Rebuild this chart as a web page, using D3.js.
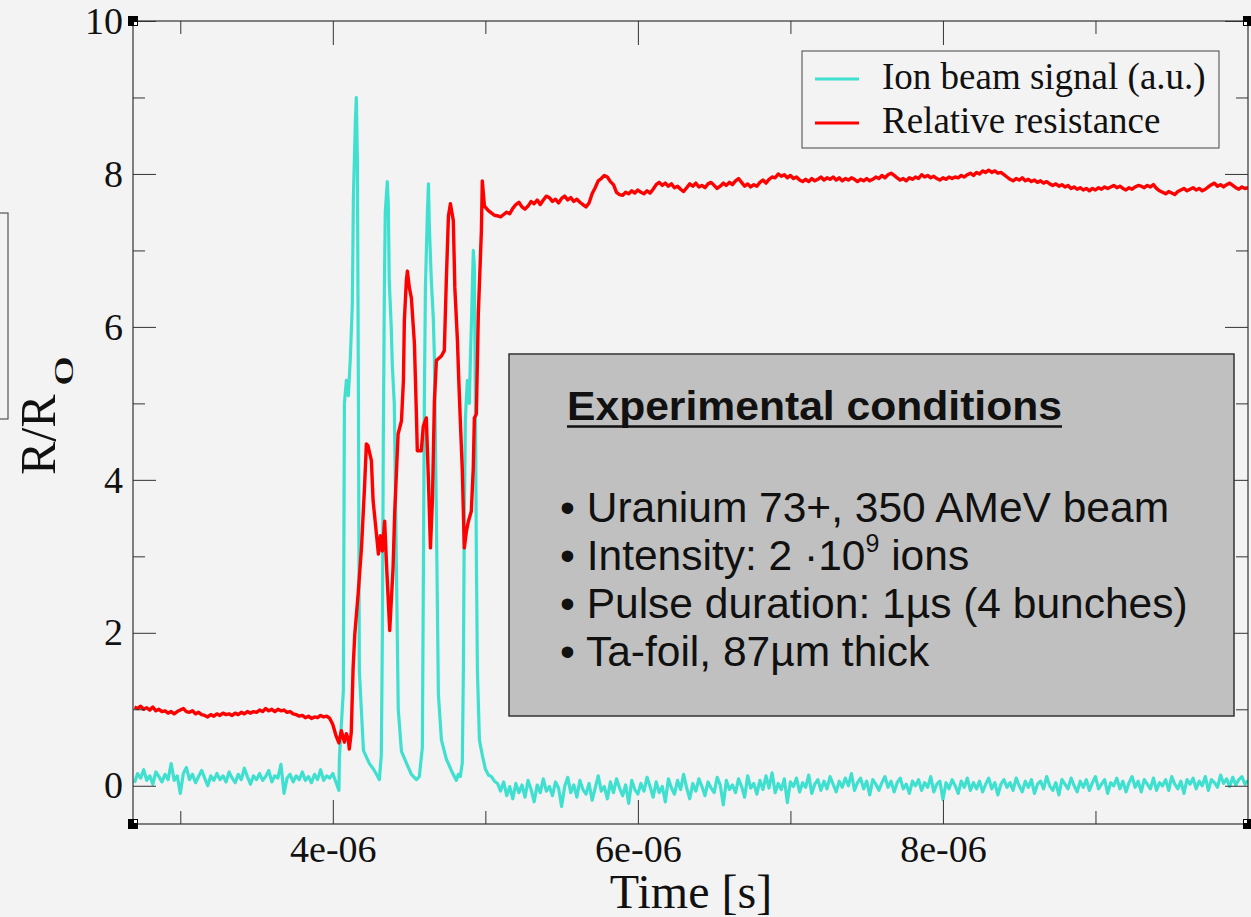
<!DOCTYPE html>
<html>
<head>
<meta charset="utf-8">
<script src="https://cdn.jsdelivr.net/npm/d3@7"></script>
<style>
  html, body { margin: 0; padding: 0; background: #f3f3f3; }
  svg { display: block; }
  .serif { font-family: "Liberation Serif", "Times New Roman", serif; fill: #111; }
  .sans { font-family: "Liberation Sans", Arial, sans-serif; fill: #111; }
</style>
</head>
<body>
<svg id="chart" width="1251" height="917"></svg>
<script>
// time in microseconds
const STEP = 0.02
const PRE_T0 = 2.70

// ion beam signal before the pulse (2.70 .. 4.04 us)
const ionPre = [
  0.04, 0.16, 0.10, 0.21, 0.07, 0.13, 0.02, 0.18, 0.12, 0.05,
  0.15, 0.08, 0.29, 0.07, 0.13, -0.10, 0.16, 0.24, 0.08, 0.15,
  0.04, 0.12, 0.20, 0.10, 0.00, 0.13, 0.07, 0.16, 0.08, 0.13,
  0.05, 0.18, 0.10, 0.04, 0.15, 0.08, 0.23, 0.12, 0.02, 0.13,
  0.08, 0.16, 0.07, 0.12, 0.20, 0.05, 0.13, 0.10, 0.28, -0.10,
  0.10, 0.15, 0.05, 0.13, 0.08, 0.18, 0.07, 0.12, 0.04, 0.15,
  0.08, 0.21, 0.07, 0.13, 0.10, 0.16, 0.05, -0.06
]

// relative resistance before the pulse (2.70 .. 4.04 us)
const resPre = [
  1.03, 1.01, 1.04, 1.00, 1.02, 0.99, 1.03, 0.98, 1.00, 0.97,
  0.98, 0.95, 0.97, 0.94, 0.97, 0.99, 1.01, 0.97, 0.96, 0.98,
  0.94, 0.96, 0.93, 0.92, 0.90, 0.93, 0.91, 0.94, 0.92, 0.95,
  0.93, 0.94, 0.92, 0.95, 0.93, 0.96, 0.94, 0.97, 0.95, 0.97,
  0.96, 0.99, 0.97, 1.01, 0.98, 1.00, 0.97, 1.00, 0.98, 0.99,
  0.96, 0.97, 0.94, 0.93, 0.91, 0.92, 0.89, 0.91, 0.88, 0.90,
  0.89, 0.92, 0.90, 0.91, 0.88, 0.80, 0.66, 0.56
]

// the four bunches, [time us, value]
const ionBurst = [
  [4.043, 0.36], [4.056, 0.80], [4.069, 1.24], [4.076, 5.0], [4.089, 5.3], [4.102, 5.1],
  [4.115, 5.6], [4.128, 6.3], [4.135, 7.7], [4.148, 8.7], [4.154, 9.0], [4.161, 8.2],
  [4.168, 5.0], [4.174, 1.5], [4.201, 0.46], [4.240, 0.29], [4.266, 0.22], [4.286, 0.15],
  [4.305, 0.08], [4.318, 0.40], [4.325, 2.0], [4.331, 4.5], [4.338, 6.5], [4.344, 7.5],
  [4.357, 7.9], [4.364, 7.6], [4.370, 6.6], [4.383, 6.0], [4.390, 5.5], [4.403, 5.0],
  [4.416, 3.0], [4.429, 1.0], [4.450, 0.45], [4.482, 0.30], [4.515, 0.15], [4.548, 0.08],
  [4.567, 0.12], [4.587, 0.50], [4.593, 2.5], [4.600, 5.0], [4.607, 6.5], [4.620, 7.5],
  [4.627, 7.87], [4.633, 7.3], [4.646, 6.6], [4.659, 6.1], [4.666, 5.6], [4.679, 3.5],
  [4.692, 1.2], [4.712, 0.60], [4.744, 0.35], [4.777, 0.20], [4.810, 0.07], [4.823, 0.15],
  [4.836, 0.12], [4.849, 0.30], [4.856, 1.5], [4.862, 3.5], [4.869, 4.8], [4.882, 5.3],
  [4.895, 5.0], [4.902, 5.6], [4.908, 6.0], [4.921, 7.0], [4.928, 6.8], [4.935, 5.0],
  [4.941, 3.0], [4.948, 1.5], [4.961, 0.60], [4.980, 0.40], [5.000, 0.22], [5.020, 0.14]
]

const resBurst = [
  [4.056, 0.72], [4.076, 0.57], [4.089, 0.68], [4.102, 0.60], [4.108, 0.48], [4.121, 0.70],
  [4.133, 1.54], [4.144, 1.98], [4.166, 2.51], [4.188, 3.11], [4.209, 3.95], [4.220, 4.47],
  [4.230, 4.45], [4.253, 4.25], [4.264, 3.73], [4.286, 3.29], [4.299, 3.03], [4.312, 3.27],
  [4.325, 3.07], [4.340, 3.46], [4.351, 2.94], [4.373, 2.03], [4.395, 2.85], [4.406, 3.59],
  [4.428, 4.60], [4.450, 4.77], [4.463, 5.30], [4.469, 6.08], [4.482, 6.60], [4.489, 6.73],
  [4.502, 6.51], [4.515, 6.38], [4.535, 5.78], [4.548, 4.86], [4.554, 4.38], [4.580, 4.38],
  [4.593, 4.70], [4.613, 4.81], [4.627, 3.99], [4.640, 3.11], [4.653, 3.73], [4.666, 5.03],
  [4.679, 5.56], [4.712, 5.62], [4.731, 5.69], [4.744, 6.60], [4.758, 7.45], [4.771, 7.61],
  [4.790, 7.39], [4.800, 6.51], [4.817, 5.82], [4.826, 5.29], [4.836, 4.77], [4.849, 4.12],
  [4.862, 3.11], [4.876, 3.33], [4.889, 3.46], [4.908, 3.59], [4.921, 4.16], [4.928, 4.81],
  [4.941, 4.86], [4.954, 6.17], [4.974, 7.25], [4.980, 7.91], [4.994, 7.58], [5.020, 7.52],
  [5.039, 7.49], [5.059, 7.46], [5.085, 7.45]
]

// after the pulse
const ION_POST_T0 = 5.04
const ionPost = [
  0.12, 0.06, 0.03, -0.07, 0.05, -0.13, -0.01, -0.17, 0.03, -0.09,
  0.01, -0.15, 0.07, -0.05, -0.21, 0.01, -0.09, 0.09, -0.07, -0.01,
  -0.13, 0.05, -0.03, -0.27, -0.01, 0.11, -0.09, 0.01, -0.15, 0.07,
  -0.05, -0.11, 0.03, -0.19, -0.03, 0.13, -0.07, -0.01, -0.17, 0.05,
  -0.09, 0.09, -0.03, -0.13, 0.01, -0.23, 0.07, -0.05, -0.11, 0.03,
  -0.07, 0.11, -0.01, -0.15, 0.05, -0.09, -0.01, -0.21, 0.09, -0.03,
  -0.11, 0.07, -0.05, 0.15, -0.03, -0.17, 0.03, -0.07, 0.09, -0.01,
  -0.13, 0.05, -0.03, -0.09, 0.11, 0.01, -0.25, 0.07, -0.05, 0.01,
  -0.09, 0.09, -0.01, -0.15, 0.13, -0.03, 0.03, -0.11, 0.07, -0.05,
  0.13, -0.03, 0.17, -0.09, 0.03, -0.05, 0.09, -0.22, 0.05, -0.01,
  0.10, -0.08, 0.04, -0.02, 0.14, -0.10, 0.02, 0.08, -0.06, 0.06,
  -0.04, 0.12, 0.02, -0.08, 0.06, -0.02, 0.10, 0.00, 0.16, -0.06,
  0.04, 0.10, -0.04, 0.06, -0.12, 0.08, 0.02, -0.06, 0.04, 0.12,
  -0.02, 0.06, -0.08, 0.04, 0.10, -0.04, 0.02, -0.10, 0.06, 0.00,
  0.08, -0.06, 0.04, -0.02, 0.12, -0.08, 0.02, 0.06, -0.18, 0.04,
  -0.04, 0.08, 0.00, -0.10, 0.06, -0.02, 0.10, -0.06, 0.04, -0.04,
  0.06, -0.08, 0.02, 0.10, -0.04, 0.04, -0.12, 0.02, 0.08, -0.02,
  0.04, -0.06, 0.10, 0.00, -0.08, 0.06, -0.02, 0.08, -0.10, 0.02,
  0.06, -0.04, 0.12, 0.00, -0.06, 0.04, -0.12, 0.08, 0.02, -0.04,
  0.10, 0.00, -0.08, 0.06, -0.02, 0.08, -0.06, 0.04, 0.12, -0.04,
  0.02, 0.08, -0.10, 0.04, 0.00, 0.10, -0.04, 0.06, -0.08, 0.04,
  0.12, -0.02, 0.06, -0.08, 0.08, 0.02, -0.04, 0.10, -0.06, 0.04,
  0.00, 0.08, -0.06, 0.12, 0.02, -0.04, 0.06, -0.10, 0.08, 0.02,
  0.10, -0.04, 0.06, 0.00, 0.12, -0.06, 0.08, 0.04, -0.02, 0.14,
  0.03, 0.09, -0.01, 0.11, 0.01, 0.08, 0.12, 0.02, 0.07
]

const RES_POST_T0 = 5.10
const resPost = [
  7.44, 7.47, 7.50, 7.48, 7.55, 7.60, 7.63, 7.57, 7.54, 7.58,
  7.64, 7.61, 7.66, 7.60, 7.66, 7.71, 7.69, 7.64, 7.67, 7.62,
  7.68, 7.71, 7.66, 7.69, 7.64, 7.67, 7.63, 7.60, 7.57, 7.62,
  7.74, 7.82, 7.91, 7.94, 7.98, 7.96, 7.90, 7.86, 7.76, 7.73,
  7.72, 7.76, 7.74, 7.78, 7.75, 7.79, 7.76, 7.74, 7.78, 7.75,
  7.80, 7.86, 7.89, 7.85, 7.88, 7.84, 7.87, 7.82, 7.84, 7.80,
  7.77, 7.82, 7.87, 7.84, 7.88, 7.83, 7.85, 7.82, 7.87, 7.89,
  7.85, 7.81, 7.84, 7.88, 7.85, 7.89, 7.86, 7.91, 7.94, 7.89,
  7.84, 7.87, 7.83, 7.86, 7.84, 7.89, 7.92, 7.88, 7.93, 7.96,
  7.95, 8.00, 7.97, 7.99, 7.95, 7.98, 7.94, 7.96, 7.92, 7.90,
  7.93, 7.90, 7.94, 7.91, 7.93, 7.96, 7.92, 7.95, 7.93, 7.96,
  7.92, 7.95, 7.91, 7.94, 7.92, 7.95, 7.93, 7.90, 7.93, 7.91,
  7.94, 7.91, 7.93, 7.96, 7.94, 7.98, 7.95, 7.99, 8.01, 7.98,
  7.95, 7.92, 7.94, 7.91, 7.95, 7.93, 7.96, 7.94, 7.99, 7.96,
  7.98, 7.95, 7.97, 7.94, 7.92, 7.95, 7.93, 7.96, 7.94, 7.96,
  7.95, 7.98, 7.96, 7.99, 8.01, 7.98, 8.02, 8.00, 8.04, 8.02,
  8.05, 8.02, 8.04, 8.01, 8.02, 7.99, 7.96, 7.93, 7.91, 7.94,
  7.92, 7.95, 7.91, 7.93, 7.90, 7.92, 7.89, 7.91, 7.88, 7.90,
  7.87, 7.85, 7.87, 7.84, 7.86, 7.83, 7.85, 7.81, 7.83, 7.80,
  7.82, 7.79, 7.81, 7.78, 7.81, 7.79, 7.82, 7.80, 7.83, 7.81,
  7.83, 7.85, 7.82, 7.84, 7.81, 7.79, 7.82, 7.80, 7.83, 7.85,
  7.84, 7.82, 7.85, 7.83, 7.86, 7.81, 7.78, 7.76, 7.74, 7.77,
  7.75, 7.73, 7.77, 7.79, 7.81, 7.78, 7.80, 7.82, 7.79, 7.81,
  7.78, 7.80, 7.83, 7.86, 7.88, 7.84, 7.86, 7.83, 7.86, 7.88,
  7.85, 7.82, 7.80, 7.83, 7.81, 7.82
]

const xMajor = [4, 6, 8]
const xMinor = [3, 5, 7, 9]
const yMajor = [0, 2, 4, 6, 8, 10]
const yMinor = [1, 3, 5, 7, 9]

const legendItems = [
  { label: "Ion beam signal (a.u.)", color: "#40e0d0" },
  { label: "Relative resistance", color: "#ff0000" }
]

const conditions = [
  ["• Uranium 73+, 350 AMeV beam"],
  ["• Intensity: 2 ·10", "9", " ions"],
  ["• Pulse duration: 1µs (4 bunches)"],
  ["• Ta-foil, 87µm thick"]
]

// ---------------------------------------------------------------

const M = { left: 133, top: 21, right: 1248, bottom: 824 }
const svg = d3.select("#chart")

svg.append("rect").attr("width", 1251).attr("height", 917).attr("fill", "#f3f3f3")

// stray box from the slide on the left edge
svg.append("rect")
  .attr("x", -2).attr("y", 213).attr("width", 10).attr("height", 206)
  .attr("fill", "none").attr("stroke", "#555").attr("stroke-width", 1.2)

const x = d3.scaleLinear().domain([2.69, 10]).range([M.left, M.right])
const y = d3.scaleLinear().domain([-0.5, 10]).range([M.bottom, M.top])

const sampled = (t0, vals) => vals.map((v, i) => [t0 + i * STEP, v])
const ionData = sampled(PRE_T0, ionPre).concat(ionBurst, sampled(ION_POST_T0, ionPost))
const resData = sampled(PRE_T0, resPre).concat(resBurst, sampled(RES_POST_T0, resPost))

svg.append("clipPath").attr("id", "plot-clip")
  .append("rect")
  .attr("x", M.left).attr("y", M.top)
  .attr("width", M.right - M.left).attr("height", M.bottom - M.top)

const line = d3.line().x(d => x(d[0])).y(d => y(d[1]))
const traces = svg.append("g").attr("clip-path", "url(#plot-clip)")
traces.append("path").datum(ionData)
  .attr("d", line).attr("fill", "none")
  .attr("stroke", legendItems[0].color).attr("stroke-width", 3.2).attr("stroke-linejoin", "round")
traces.append("path").datum(resData)
  .attr("d", line).attr("fill", "none")
  .attr("stroke", legendItems[1].color).attr("stroke-width", 3.4).attr("stroke-linejoin", "round")

// axes: ticks point inwards on all four sides
const fmtX = d => (d / 1e6).toExponential().replace(/e-(\d)$/, "e-0$1")

function styleAxis(g) {
  g.select(".domain").remove()
  g.selectAll(".tick line").attr("stroke", "#333").attr("stroke-width", 1)
  g.selectAll(".tick text").attr("class", "serif").attr("font-size", 38).attr("fill", "#111")
}

svg.append("g").attr("transform", `translate(0,${M.bottom})`)
  .call(d3.axisBottom(x).tickValues(xMajor).tickSize(-24).tickPadding(11).tickFormat(fmtX))
  .call(styleAxis)
svg.append("g").attr("transform", `translate(0,${M.bottom})`)
  .call(d3.axisBottom(x).tickValues(xMinor).tickSize(-13).tickFormat(""))
  .call(styleAxis)
svg.append("g").attr("transform", `translate(0,${M.top})`)
  .call(d3.axisTop(x).tickValues(xMajor).tickSize(-24).tickFormat(""))
  .call(styleAxis)
svg.append("g").attr("transform", `translate(0,${M.top})`)
  .call(d3.axisTop(x).tickValues(xMinor).tickSize(-13).tickFormat(""))
  .call(styleAxis)

svg.append("g").attr("transform", `translate(${M.left},0)`)
  .call(d3.axisLeft(y).tickValues(yMajor).tickSize(-23).tickPadding(10).tickFormat(d3.format("d")))
  .call(styleAxis)
svg.append("g").attr("transform", `translate(${M.left},0)`)
  .call(d3.axisLeft(y).tickValues(yMinor).tickSize(-12).tickFormat(""))
  .call(styleAxis)
svg.append("g").attr("transform", `translate(${M.right},0)`)
  .call(d3.axisRight(y).tickValues(yMajor).tickSize(-23).tickFormat(""))
  .call(styleAxis)
svg.append("g").attr("transform", `translate(${M.right},0)`)
  .call(d3.axisRight(y).tickValues(yMinor).tickSize(-12).tickFormat(""))
  .call(styleAxis)

// frame
svg.append("rect")
  .attr("x", M.left).attr("y", M.top)
  .attr("width", M.right - M.left).attr("height", M.bottom - M.top)
  .attr("fill", "none").attr("stroke", "#333").attr("stroke-width", 1.2)

// corner handles
const corners = [[M.left, M.top, 1, 1], [M.left, M.bottom, 1, -1], [M.right, M.top, -1, 1], [M.right, M.bottom, -1, -1]]
corners.forEach(([cx, cy, sx, sy]) => {
  svg.append("rect").attr("x", cx - 5).attr("y", cy - 5).attr("width", 10).attr("height", 10).attr("fill", "#000")
  svg.append("rect")
    .attr("x", sx > 0 ? cx + 1 : cx - 4).attr("y", sy > 0 ? cy + 1 : cy - 4)
    .attr("width", 3).attr("height", 3).attr("fill", "#fff")
})

// axis titles
svg.append("text").attr("class", "serif")
  .attr("x", 691).attr("y", 908).attr("text-anchor", "middle")
  .attr("font-size", 48).text("Time [s]")

// R/R0 with the flattened subscript of the original
const yTitle = svg.append("g").attr("transform", "translate(55,415) rotate(-90)")
yTitle.append("text").attr("class", "serif")
  .attr("x", -60).attr("y", 0).attr("font-size", 50).text("R/R")
yTitle.append("text").attr("class", "serif")
  .attr("transform", "translate(29,18) scale(1.5,0.66)")
  .attr("font-size", 40).text("0")

// legend
const legend = svg.append("g")
legend.append("rect")
  .attr("x", 802).attr("y", 51).attr("width", 417).attr("height", 97)
  .attr("fill", "#f3f3f3").attr("stroke", "#444").attr("stroke-width", 1)
legendItems.forEach((d, i) => {
  const ly = 79 + i * 44
  legend.append("line")
    .attr("x1", 815).attr("x2", 859).attr("y1", ly).attr("y2", ly)
    .attr("stroke", d.color).attr("stroke-width", 2.8)
  legend.append("text").attr("class", "serif")
    .attr("x", 882).attr("y", ly + 10).attr("font-size", 37).text(d.label)
})

// experimental conditions box
const box = svg.append("g")
box.append("rect")
  .attr("x", 509).attr("y", 354).attr("width", 725).attr("height", 362)
  .attr("fill", "#c0c0c0").attr("stroke", "#333").attr("stroke-width", 1.5)
box.append("text").attr("class", "sans")
  .attr("x", 567).attr("y", 420).attr("font-size", 41).attr("font-weight", "bold")
  .attr("textLength", 495).attr("lengthAdjust", "spacingAndGlyphs")
  .text("Experimental conditions")
box.append("line")
  .attr("x1", 567).attr("x2", 1062).attr("y1", 426.5).attr("y2", 426.5)
  .attr("stroke", "#111").attr("stroke-width", 2.5)

conditions.forEach((parts, i) => {
  const t = box.append("text").attr("class", "sans")
    .attr("x", 560).attr("y", 522 + i * 48).attr("font-size", 42.5)
  if (parts.length === 1) {
    t.text(parts[0])
  } else {
    t.append("tspan").text(parts[0])
    t.append("tspan").attr("font-size", 25).attr("dy", -18).text(parts[1])
    t.append("tspan").attr("dy", 18).text(parts[2])
  }
})
</script>
</body>
</html>
